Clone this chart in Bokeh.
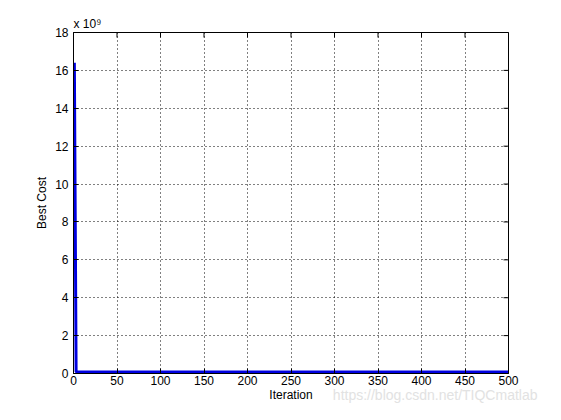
import math
from bokeh.plotting import figure
from bokeh.models import Range1d, FixedTicker, Title
from bokeh.embed import file_html
from bokeh.resources import INLINE

# Data (best cost per iteration)
iterations = [1, 2, 3, 4, 5, 10, 20, 50, 100, 200, 300, 400, 500]
best_cost = [16.4e9, 8.2e9, 0.09e9, 0.08e9, 0.08e9, 0.08e9, 0.08e9, 0.08e9,
             0.08e9, 0.08e9, 0.08e9, 0.08e9, 0.08e9]
x_ticks = [0, 50, 100, 150, 200, 250, 300, 350, 400, 450, 500]
y_ticks = [0, 2, 4, 6, 8, 10, 12, 14, 16, 18]
scale = 1e9
x_max = 500
y_max = 18

FONT = "Liberation Sans"

p = figure(width=545, height=404, output_backend="svg", toolbar_location=None,
           x_range=Range1d(0, x_max), y_range=Range1d(0, y_max),
           min_border_left=73, min_border_right=37, min_border_top=32,
           min_border_bottom=31)

p.line(iterations, [c / scale for c in best_cost], line_color="#0000E0", line_width=3)

p.outline_line_color = "black"
p.outline_line_width = 1
p.background_fill_color = "white"
p.border_fill_color = "white"

for ax in (p.xaxis[0], p.yaxis[0]):
    ax.major_tick_in = 5
    ax.major_tick_out = 0
    ax.minor_tick_in = 0
    ax.minor_tick_out = 0
    ax.axis_line_color = "black"
    ax.major_tick_line_color = "black"
    ax.major_label_text_font = FONT
    ax.major_label_text_font_size = "12px"
    ax.major_label_text_color = "black"
    ax.axis_label_text_font = FONT
    ax.axis_label_text_font_size = "12px"
    ax.axis_label_text_font_style = "normal"
    ax.axis_label_text_color = "black"

p.xaxis[0].ticker = FixedTicker(ticks=x_ticks)
p.yaxis[0].ticker = FixedTicker(ticks=y_ticks)
p.xaxis[0].axis_label = "Iteration"
p.yaxis[0].axis_label = "Best Cost"
p.xaxis[0].major_label_standoff = 2
p.yaxis[0].major_label_standoff = 5
p.xaxis[0].axis_label_standoff = 0
p.yaxis[0].axis_label_standoff = 3

# inward ticks on top and right edges (box on), clipped to the frame
p.scatter(x_ticks, [y_max] * len(x_ticks), marker="dash", size=10, angle=math.pi / 2,
          line_color="black", line_width=1)
p.scatter([x_max] * len(y_ticks), y_ticks, marker="dash", size=10,
          line_color="black", line_width=1)

p.xgrid.ticker = FixedTicker(ticks=x_ticks)
p.ygrid.ticker = FixedTicker(ticks=y_ticks)
for g in (p.xgrid[0], p.ygrid[0]):
    g.grid_line_color = "black"
    g.grid_line_dash = "1 3"
    g.grid_line_width = 1
    g.grid_line_alpha = 1.0

p.add_layout(Title(text="x 10\u2079", align="left", text_font=FONT, text_font_size="12px",
                   text_font_style="normal", text_color="black", standoff=4), "above")
p.add_layout(Title(text="https://blog.csdn.net/TIQCmatlab", align="right", offset=-29,
                   vertical_align="top", standoff=-36, text_font=FONT,
                   text_font_size="14px", text_font_style="normal",
                   text_color="#e2e2e2"), "below")

open("out.html", "w").write(file_html(p, INLINE))
